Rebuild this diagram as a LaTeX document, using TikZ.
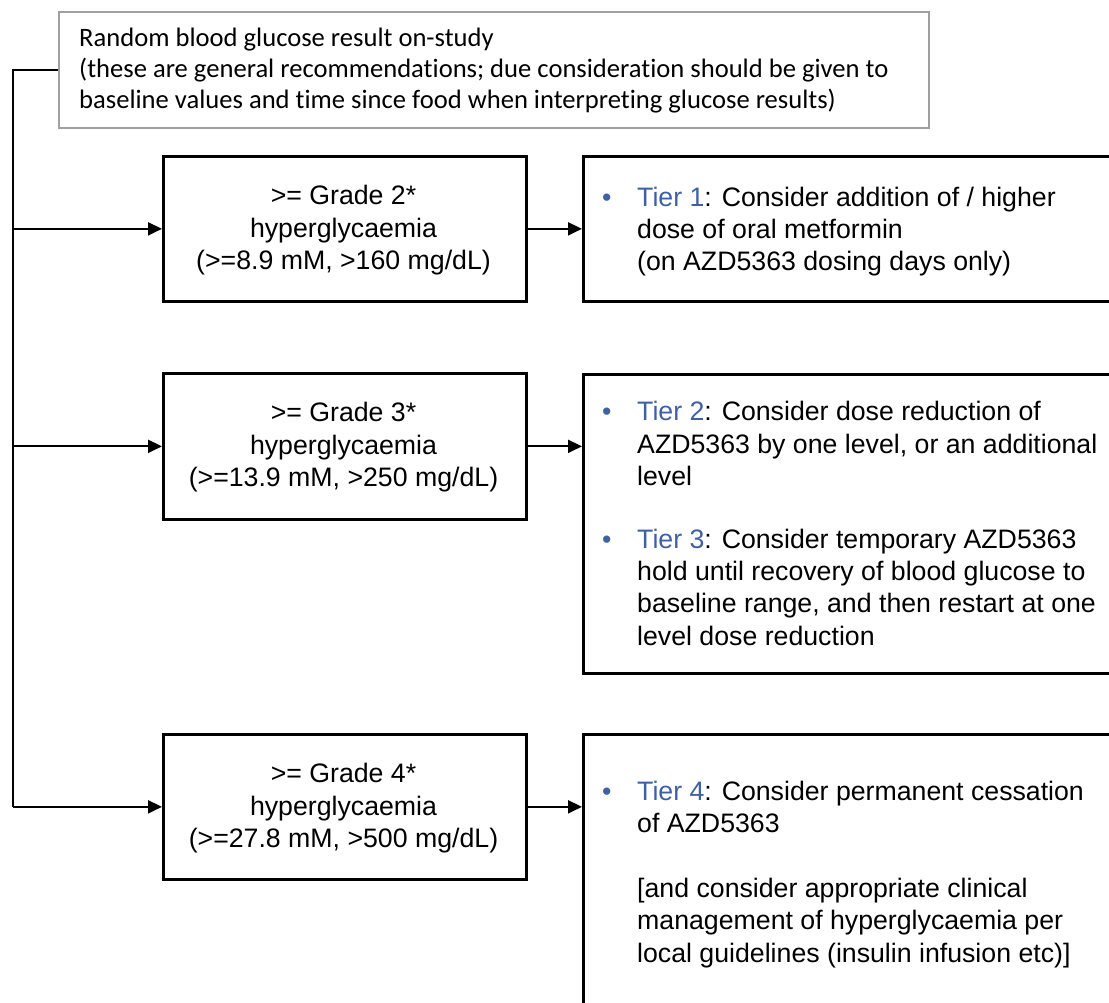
\documentclass[tikz,border=0pt]{standalone}
\usepackage{fontspec}
\setmainfont{Liberation Sans}
\newfontfamily\calibrifont[Ligatures={NoCommon,NoContextual}]{Carlito}
\usetikzlibrary{arrows.meta}
\definecolor{tierblue}{RGB}{62,96,168}
\definecolor{topgray}{RGB}{160,160,160}
\newcommand{\tbul}{\makebox[35pt][l]{\textcolor{tierblue}{•}}}
\newcommand{\tind}{\makebox[35pt]{}}
\newcommand{\tier}[1]{\textcolor{tierblue}{#1}}
\begin{document}
\begin{tikzpicture}[x=1pt,y=-1pt,
  box/.style={draw=black, line width=2.7pt, rectangle, inner sep=0pt, anchor=north west},
  graybox/.style={draw=topgray, line width=2.3pt, rectangle, inner sep=0pt, anchor=north west},
  conn/.style={line width=2pt, -{Triangle[length=14pt,width=13pt]}},
  trunkline/.style={line width=2pt},
  arialtext/.style={font=\fontsize{26.7}{32.4}\selectfont, inner sep=0pt},
  gradetext/.style={arialtext, align=center, anchor=north},
  tiertext/.style={arialtext, align=left, anchor=north west},
  toptext/.style={font=\calibrifont\fontsize{26.6}{31}\selectfont, inner sep=0pt, align=left, anchor=north west},
]
\useasboundingbox (0,0) rectangle (1109,1003);
\clip (0,0) rectangle (1109,1003);
\fill[white] (0,0) rectangle (1109,1003);

% boxes
\node[graybox, minimum width=870pt, minimum height=116pt] (top) at (58,11) {};
\node[box, minimum width=363pt, minimum height=145pt] (g2) at (162,155) {};
\node[box, minimum width=363pt, minimum height=146pt] (g3) at (162,372) {};
\node[box, minimum width=363pt, minimum height=145pt] (g4) at (162,733) {};
\node[box, minimum width=560pt, minimum height=145pt] (t1) at (582,155) {};
\node[box, minimum width=560pt, minimum height=299pt] (t23) at (582,373) {};
\node[box, minimum width=560pt, minimum height=330pt] (t4) at (582,733) {};

% texts
\node[toptext] (toptxt) at (79,24.3) {\strut Random blood glucose result on-study\\
(these are general recommendations; due consideration should be given to\\
baseline values and time since food when interpreting glucose results)};

\node[gradetext] (g2txt) at (343.5,182) {\strut >= Grade 2*\\hyperglycaemia\\(>=8.9 mM, >160 mg/dL)};
\node[gradetext] (g3txt) at (343.5,399) {\strut >= Grade 3*\\hyperglycaemia\\(>=13.9 mM, >250 mg/dL)};
\node[gradetext] (g4txt) at (343.5,760) {\strut >= Grade 4*\\hyperglycaemia\\(>=27.8 mM, >500 mg/dL)};

\node[tiertext] (t1txt) at (602,183.3) {\strut\tbul\tier{Tier 1}: Consider addition of / higher\\
\tind dose of oral metformin\\
\tind (on AZD5363 dosing days only)};

\node[tiertext] (t23txt) at (602,397.8) {\strut\tbul\tier{Tier 2}: Consider dose reduction of\\
\tind AZD5363 by one level, or an additional\\
\tind level\\[30.3pt]
\tbul\tier{Tier 3}: Consider temporary AZD5363\\
\tind hold until recovery of blood glucose to\\
\tind baseline range, and then restart at one\\
\tind level dose reduction};

\node[tiertext] (t4txt) at (602,777.3) {\strut\tbul\tier{Tier 4}: Consider permanent cessation\\
\tind of AZD5363\\[32.6pt]
\tind [and consider appropriate clinical\\
\tind management of hyperglycaemia per\\
\tind local guidelines (insulin infusion etc)]};

% connectors
\coordinate (trunk) at (13,0);
\draw[trunkline] (top.west) -- (top.west -| trunk) -- (g4.west -| trunk);
\draw[conn] (g2.west -| trunk) -- (g2.west);
\draw[conn] (g3.west -| trunk) -- (g3.west);
\draw[conn] (g4.west -| trunk) -- (g4.west);
\draw[conn] (g2.east) -- (g2.east -| t1.west);
\draw[conn] (g3.east) -- (g3.east -| t23.west);
\draw[conn] (g4.east) -- (g4.east -| t4.west);
\end{tikzpicture}
\end{document}
